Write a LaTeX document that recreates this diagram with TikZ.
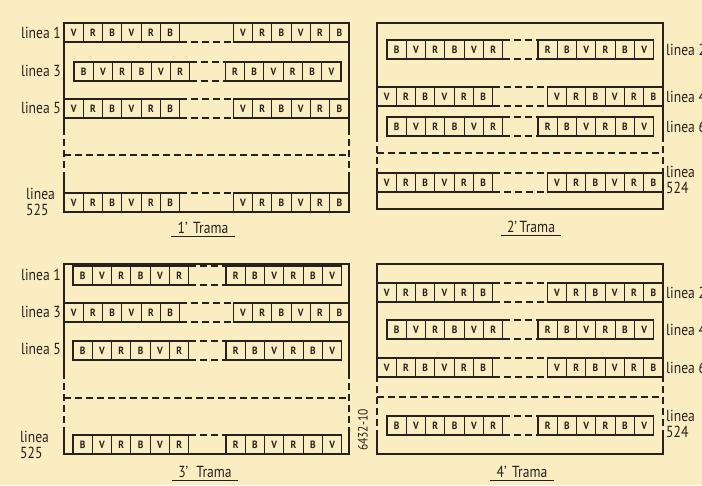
\documentclass[tikz,border=0pt]{standalone}
\usepackage{fontspec}
\setmainfont{PT Sans}[FakeStretch=0.85]
\newfontfamily\cellfont{PT Sans}[FakeStretch=0.9]
\definecolor{paper}{RGB}{251,237,194}
\definecolor{ink}{RGB}{38,33,28}
\tikzset{
  cellbox/.style={draw=ink, line width=1.1pt, minimum width=19.3pt, minimum height=19pt,
    inner sep=0pt, outer sep=0pt, anchor=north west,
    font=\cellfont\fontsize{10.5}{10.5}\selectfont\bfseries, text=ink},
  dsh/.style={draw=ink, line width=1.1pt, dash pattern=on 7pt off 4pt},
  solidline/.style={draw=ink, line width=1.1pt},
  lbl/.style={text=ink, font=\fontsize{16}{16}\selectfont, inner sep=0pt},
  trama/.style={text=ink, font=\fontsize{16}{16}\selectfont, inner xsep=6pt, inner ysep=2.5pt},
}
% #1 name, #2 left x, #3 right x, #4 top y, #5 left letters, #6 right letters
\newcommand\cellrow[6]{%
  \foreach \l [count=\i] in {#5} {\node[cellbox] (#1a\i) at ({#2+(\i-1)*19.3}, #4) {\l};}
  \foreach \l [count=\i] in {#6} {\node[cellbox] (#1b\i) at ({#3+(\i-1)*19.3}, #4) {\l};}
  \draw[dsh] (#1a6.north east) -- (#1b1.north west);
  \draw[dsh] (#1a6.south east) -- (#1b1.south west);
}
% #1 x0, #2 x1, #3 top, #4 bottom, #5 dash start, #6 dash end, #7 mid dashed line
\newcommand\drawframe[7]{%
  \draw[solidline] (#1,#5) -- (#1,#3) -- (#2,#3) -- (#2,#5);
  \draw[dsh] (#1,#5) -- (#1,#6);
  \draw[dsh] (#2,#5) -- (#2,#6);
  \draw[solidline] (#1,#6) -- (#1,#4) -- (#2,#4) -- (#2,#6);
  \draw[dsh] (#1,#7) -- (#2,#7);
}
\begin{document}
\begin{tikzpicture}[x=1pt,y=-1pt]
\useasboundingbox (0,0) rectangle (702,485);
\fill[paper] (0,0) rectangle (702,485);
\clip (0,0) rectangle (702,485);

% ---------- Frame 1 ----------
\drawframe{64}{349}{23}{212}{128}{175}{155}
\cellrow{fa1}{64}{233.2}{23}{V,R,B,V,R,B}{V,R,B,V,R,B}
\cellrow{fa3}{74}{225.2}{62}{B,V,R,B,V,R}{R,B,V,R,B,V}
\cellrow{fa5}{64}{233.2}{99}{V,R,B,V,R,B}{V,R,B,V,R,B}
\cellrow{fa525}{64}{233.2}{193}{V,R,B,V,R,B}{V,R,B,V,R,B}
\node[lbl, anchor=east] (la1) at (61,33) {linea 1};
\node[lbl, anchor=east] (la3) at (61,71) {linea 3};
\node[lbl, anchor=east] (la5) at (61,108) {linea 5};
\node[lbl, anchor=west, align=left] (la525) at (26,202) {linea\\525};
\node[trama] (t1) at (203,228) {1'\,\,Trama};
\draw[solidline] (t1.south west) -- (t1.south east);

% ---------- Frame 2 ----------
\drawframe{377}{663}{23}{209}{135}{172}{153}
\cellrow{fb2}{387}{538}{40}{B,V,R,B,V,R}{R,B,V,R,B,V}
\cellrow{fb4}{377}{547.2}{87}{V,R,B,V,R,B}{V,R,B,V,R,B}
\cellrow{fb6}{387}{538}{117}{B,V,R,B,V,R}{R,B,V,R,B,V}
\cellrow{fb524}{377}{547.2}{173}{V,R,B,V,R,B}{V,R,B,V,R,B}
\node[lbl, anchor=west] (lb2) at (666,50) {linea 2};
\node[lbl, anchor=west] (lb4) at (666,97) {linea 4};
\node[lbl, anchor=west] (lb6) at (666,127) {linea 6};
\node[lbl, anchor=west, align=left] (lb524) at (666,180) {linea\\524};
\node[trama] (t2) at (531,227) {2'\,Trama};
\draw[solidline] (t2.south west) -- (t2.south east);

% ---------- Frame 3 ----------
\drawframe{64}{349}{264}{454}{372}{430}{398}
\cellrow{fc1}{73}{226}{266}{B,V,R,B,V,R}{R,B,V,R,B,V}
\cellrow{fc3}{64}{233.2}{303}{V,R,B,V,R,B}{V,R,B,V,R,B}
\cellrow{fc5}{73}{226}{341}{B,V,R,B,V,R}{R,B,V,R,B,V}
\cellrow{fc525}{73}{226}{435}{B,V,R,B,V,R}{R,B,V,R,B,V}
\node[lbl, anchor=east] (lc1) at (61,275) {linea 1};
\node[lbl, anchor=east] (lc3) at (61,312) {linea 3};
\node[lbl, anchor=east] (lc5) at (61,349) {linea 5};
\node[lbl, anchor=west, align=left] (lc525) at (20,445) {linea\\525};
\node[trama] (t3) at (205,472) {3'\,\,\,Trama};
\draw[solidline] (t3.south west) -- (t3.south east);

% ---------- Frame 4 ----------
\drawframe{377}{663}{264}{454}{375}{430}{397}
\cellrow{fd2}{377}{547.2}{283}{V,R,B,V,R,B}{V,R,B,V,R,B}
\cellrow{fd4}{387}{538}{320}{B,V,R,B,V,R}{R,B,V,R,B,V}
\cellrow{fd6}{377}{547.2}{358}{V,R,B,V,R,B}{V,R,B,V,R,B}
\cellrow{fd524}{387}{538}{416}{B,V,R,B,V,R}{R,B,V,R,B,V}
\node[lbl, anchor=west] (ld2) at (666,293) {linea 2};
\node[lbl, anchor=west] (ld4) at (666,330) {linea 4};
\node[lbl, anchor=west] (ld6) at (666,368) {linea 6};
\node[lbl, anchor=west, align=left] (ld524) at (666,424) {linea\\524};
\node[trama] (t4) at (522,472) {4'\,\,Trama};
\draw[solidline] (t4.south west) -- (t4.south east);

% ---------- reference number ----------
\node[text=ink, font=\fontsize{13.5}{13.5}\selectfont, rotate=90, inner sep=0pt] (ref) at (363,430) {6432-10};
\end{tikzpicture}
\end{document}
